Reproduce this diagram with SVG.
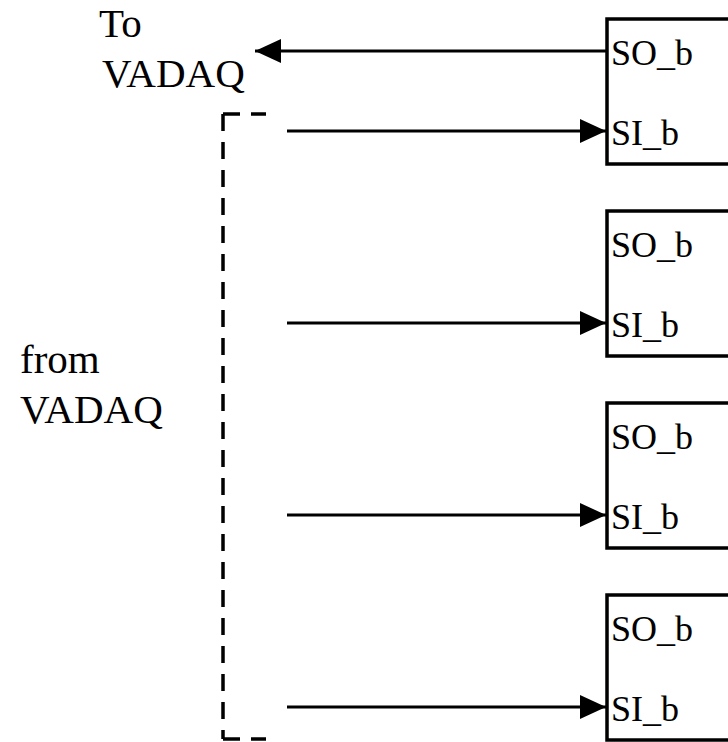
<svg xmlns="http://www.w3.org/2000/svg" width="728" height="742" viewBox="0 0 728 742">
<defs>
<style>
.box{fill:#fff;stroke:#000;stroke-width:3.5}
.lbl{font-size:36px;fill:#000}
.big{font-size:41px;fill:#000}
.wire{stroke:#000;stroke-width:3;fill:none}
.dash{stroke:#000;stroke-width:3.5;fill:none;stroke-dasharray:17 11}
</style>
<marker id="ah" viewBox="0 0 26 24" refX="26" refY="12" markerWidth="26" markerHeight="24" markerUnits="userSpaceOnUse" orient="auto">
<path d="M0,0 L26,12 L0,24 Z" fill="#000"/>
</marker>
</defs>
<rect width="728" height="742" fill="#fff"/>
<g font-family="'Liberation Serif', 'Times New Roman', Times, serif">
<g id="box1"><rect class="box" x="607" y="19" width="140" height="145"/><text class="lbl" x="611" y="65">SO_b</text><text class="lbl" x="611" y="145">SI_b</text></g>
<g id="box2"><rect class="box" x="607" y="211" width="140" height="145"/><text class="lbl" x="611" y="257">SO_b</text><text class="lbl" x="611" y="337">SI_b</text></g>
<g id="box3"><rect class="box" x="607" y="403" width="140" height="145"/><text class="lbl" x="611" y="449">SO_b</text><text class="lbl" x="611" y="529">SI_b</text></g>
<g id="box4"><rect class="box" x="607" y="595" width="140" height="145"/><text class="lbl" x="611" y="641">SO_b</text><text class="lbl" x="611" y="721">SI_b</text></g>
<g id="to-label"><text class="big" x="99" y="37">To</text><text class="big" x="102" y="87">VADAQ</text></g>
<g id="from-label"><text class="big" x="20" y="373">from</text><text class="big" x="20" y="423">VADAQ</text></g>
</g>
<g id="bracket">
<line class="dash" x1="223" y1="114" x2="266" y2="114"/>
<line class="dash" x1="223" y1="114" x2="223" y2="739"/>
<line class="dash" x1="223" y1="739" x2="266" y2="739"/>
</g>
<g id="connectors">
<line class="wire" x1="606" y1="51" x2="255" y2="51" marker-end="url(#ah)"/>
<line class="wire" x1="287" y1="131" x2="606" y2="131" marker-end="url(#ah)"/>
<line class="wire" x1="287" y1="323" x2="606" y2="323" marker-end="url(#ah)"/>
<line class="wire" x1="287" y1="515" x2="606" y2="515" marker-end="url(#ah)"/>
<line class="wire" x1="287" y1="707" x2="606" y2="707" marker-end="url(#ah)"/>
</g>
</svg>
